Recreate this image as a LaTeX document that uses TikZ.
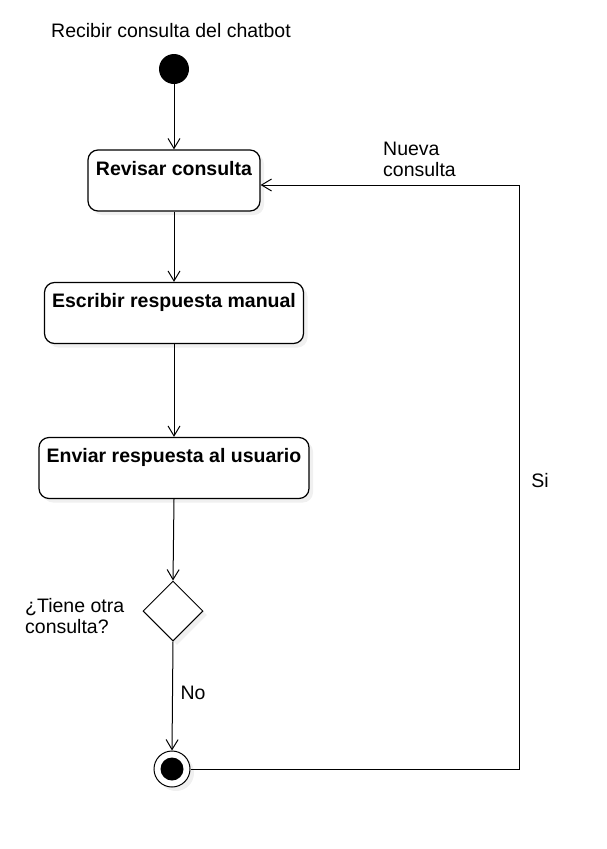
\documentclass[tikz,border=0pt]{standalone}
\usepackage{fontspec}
\setmainfont{Liberation Sans}
\usepackage{xcolor}
\usepackage{tikz}
\usetikzlibrary{arrows.meta,shapes.geometric,shadows}

\begin{document}
\begin{tikzpicture}[x=1pt,y=-1pt,
    font=\fontsize{19.5}{21}\selectfont,
    flow/.style={line width=1pt, -{Straight Barb[length=10pt,width=12pt,line width=1pt]}},
    softshadow/.style={drop shadow={opacity=0.12, shadow xshift=4pt, shadow yshift=-4pt}},
    actbox/.style={draw, line width=1.2pt, rounded corners=10pt, fill=white, softshadow,
        font=\fontsize{19.5}{21}\selectfont\bfseries, inner ysep=0pt,
        text height=25pt, text depth=36pt},
    plain/.style={inner sep=0pt, align=left}]
    % Page
    \useasboundingbox (0,0) rectangle (607,849);

    % Start and title
    \node[plain] (title) at (171,31) {Recibir consulta del chatbot};
    \node[circle, fill=black, minimum size=30pt, inner sep=0pt] (start) at (174,69) {};

    % Activities
    \node[actbox, minimum width=172pt] (revisar) at (174,180.5) {Revisar consulta};
    \node[actbox, minimum width=259pt] (escribir) at (174,313) {Escribir respuesta manual};
    \node[actbox, minimum width=270pt] (enviar) at (174,468) {Enviar respuesta al usuario};

    % Decision
    \node[diamond, draw, line width=1pt, fill=white, softshadow, inner sep=0pt,
        minimum width=60pt, minimum height=60pt] (decision) at (173,611) {};
    \node[plain, anchor=west] (pregunta) at (25,616) {¿Tiene otra\\consulta?};

    % End
    \node[circle, draw, line width=1pt, fill=white, softshadow, minimum size=36pt, inner sep=0pt,
        path picture={\fill[black] (path picture bounding box.center) circle (11.5pt);}]
        (final) at (172,769) {};

    % Flow
    \draw[flow] (start) -- (revisar);
    \draw[flow] (revisar) -- (escribir);
    \draw[flow] (escribir) -- (enviar);
    \draw[flow] (enviar.south) -- (decision.north);
    \draw[flow] (decision.south) -- (final.north);
    \node[plain] (no) at (193,693) {No};

    % Loop back
    \coordinate (loopturn) at (519,185);
    \draw[flow] (final.east) -| (loopturn) -- (revisar.east |- loopturn);
    \node[plain] (si) at (540,481) {Si};
    \node[plain, anchor=north west] (nueva) at (383,142) {Nueva\\consulta};
\end{tikzpicture}
\end{document}
